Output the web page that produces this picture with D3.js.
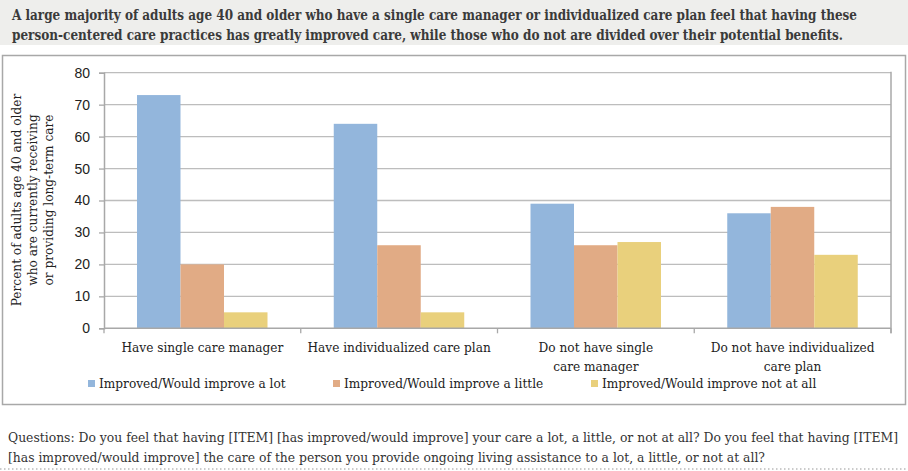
<!DOCTYPE html>
<html>
<head>
<meta charset="utf-8">
<script src="https://d3js.org/d3.v7.min.js"></script>
<style>
  body { margin: 0; background: #fff; }
  svg { display: block; }
</style>
</head>
<body>
<svg id="chart" width="908" height="471"></svg>
<script>
// data
var categories = [
  ["Have single care manager"],
  ["Have individualized care plan"],
  ["Do not have single", "care manager"],
  ["Do not have individualized", "care plan"]
];
var seriesNames = ["Improved/Would improve a lot", "Improved/Would improve a little", "Improved/Would improve not at all"];
var aLot    = [73, 64, 39, 36];
var aLittle = [20, 26, 26, 38];
var notAtAll = [5, 5, 27, 23];
var yTicks = [0, 10, 20, 30, 40, 50, 60, 70, 80];

var colors = ["#93b6dc", "#e1ab85", "#e9d07c"];
var serif = "'DejaVu Serif Condensed', 'Liberation Serif', serif";

var svg = d3.select("#chart");

// title band
svg.append("rect").attr("x", 0).attr("y", 0).attr("width", 908).attr("height", 45).attr("fill", "#eeeeec");
var titleLines = [
  "A large majority of adults age 40 and older who have a single care manager or individualized care plan feel that having these",
  "person-centered care practices has greatly improved care, while those who do not are divided over their potential benefits."
];
var titleLen = [845, 831];
titleLines.forEach(function(t, i) {
  svg.append("text")
    .attr("x", 12).attr("y", 20 + i * 20)
    .attr("textLength", titleLen[i]).attr("lengthAdjust", "spacingAndGlyphs")
    .style("font-family", serif).style("font-size", "14px").style("font-weight", "bold")
    .style("fill", "#3a3a3a")
    .text(t);
});

// chart frame
svg.append("rect").attr("x", 2.5).attr("y", 55.5).attr("width", 903).attr("height", 349)
  .attr("fill", "none").attr("stroke", "#a8a8a8").attr("stroke-width", 1.5);

var margin = {left: 104, right: 891, top: 72.7, bottom: 328.3};

var x0 = d3.scaleBand().domain(d3.range(categories.length))
  .range([margin.left, margin.right]);
var x1 = d3.scaleBand().domain(d3.range(3))
  .range([33, 33 + 130.5]);
var y = d3.scaleLinear().domain([0, 80]).range([margin.bottom, margin.top]);

// gridlines
svg.append("g").selectAll("line").data(yTicks.filter(function(d){ return d > 0; })).enter()
  .append("line")
  .attr("x1", margin.left).attr("x2", margin.right)
  .attr("y1", function(d){ return y(d); }).attr("y2", function(d){ return y(d); })
  .attr("stroke", "#bdbdbd").attr("stroke-width", 1.3);

// bars
var series = [aLot, aLittle, notAtAll];
var groups = svg.append("g").selectAll("g").data(categories).enter().append("g")
  .attr("transform", function(d, i){ return "translate(" + x0(i) + ",0)"; });
groups.selectAll("rect")
  .data(function(d, i){ return series.map(function(s, k){ return {k: k, v: s[i]}; }); })
  .enter().append("rect")
  .attr("x", function(d){ return x1(d.k); })
  .attr("width", x1.bandwidth())
  .attr("y", function(d){ return y(d.v); })
  .attr("height", function(d){ return y(0) - y(d.v); })
  .attr("fill", function(d){ return colors[d.k]; });

// right border of plot
svg.append("line").attr("x1", margin.right).attr("x2", margin.right)
  .attr("y1", margin.top - 1).attr("y2", margin.bottom + 5)
  .attr("stroke", "#a8a8a8").attr("stroke-width", 1.5);

// y axis
var yAxis = svg.append("g").attr("transform", "translate(" + margin.left + ",0)")
  .call(d3.axisLeft(y).tickValues(yTicks).tickSize(5).tickPadding(9));
yAxis.select(".domain").attr("stroke", "#a8a8a8").attr("stroke-width", 1.5);
yAxis.selectAll(".tick line").attr("stroke", "#a8a8a8").attr("stroke-width", 1.3);
yAxis.selectAll(".tick text").style("font-family", "'Liberation Sans', Arial, sans-serif")
  .style("font-size", "14px").style("fill", "#222");

// x axis
var xAxis = svg.append("g").attr("transform", "translate(0," + margin.bottom + ")");
xAxis.append("line").attr("x1", margin.left).attr("x2", margin.right)
  .attr("stroke", "#a8a8a8").attr("stroke-width", 1.5);
xAxis.selectAll(".tk").data(d3.range(categories.length + 1)).enter().append("line")
  .attr("x1", function(d){ return margin.left + d * x0.step(); })
  .attr("x2", function(d){ return margin.left + d * x0.step(); })
  .attr("y1", 0).attr("y2", 5).attr("stroke", "#a8a8a8").attr("stroke-width", 1.3);
categories.forEach(function(lines, i) {
  lines.forEach(function(l, j) {
    svg.append("text")
      .attr("x", x0(i) + x0.bandwidth() / 2).attr("y", 352 + j * 19)
      .attr("text-anchor", "middle")
      .style("font-family", serif).style("font-size", "13.5px").style("fill", "#222")
      .text(l);
  });
});

// y axis title
var yTitle = ["Percent of adults age 40 and older", "who are currently receiving", "or providing long-term care"];
yTitle.forEach(function(t, i) {
  svg.append("text")
    .attr("transform", "translate(" + (21 + i * 16) + ",200) rotate(-90)")
    .attr("text-anchor", "middle")
    .style("font-family", serif).style("font-size", "13.5px").style("fill", "#222")
    .text(t);
});

// legend
var legendX = [88, 333, 591];
seriesNames.forEach(function(n, i) {
  svg.append("rect").attr("x", legendX[i]).attr("y", 380).attr("width", 7).attr("height", 7)
    .attr("fill", colors[i]);
  svg.append("text").attr("x", legendX[i] + 11).attr("y", 388)
    .style("font-family", serif).style("font-size", "13.5px").style("fill", "#222")
    .text(n);
});

// footnote
var notes = [
  "Questions: Do you feel that having [ITEM] [has improved/would improve] your care a lot, a little, or not at all? Do you feel that having [ITEM]",
  "[has improved/would improve] the care of the person you provide ongoing living assistance to a lot, a little, or not at all?"
];
var noteLen = [890, 757];
notes.forEach(function(t, i) {
  svg.append("text").attr("x", 8).attr("y", 442 + i * 20)
    .attr("textLength", noteLen[i]).attr("lengthAdjust", "spacingAndGlyphs")
    .style("font-family", serif).style("font-size", "13px").style("fill", "#333")
    .text(t);
});
svg.append("line").attr("x1", 0).attr("x2", 908).attr("y1", 469).attr("y2", 469)
  .attr("stroke", "#bbb").attr("stroke-width", 1.5).attr("stroke-dasharray", "1.5,2.5");
</script>
</body>
</html>
